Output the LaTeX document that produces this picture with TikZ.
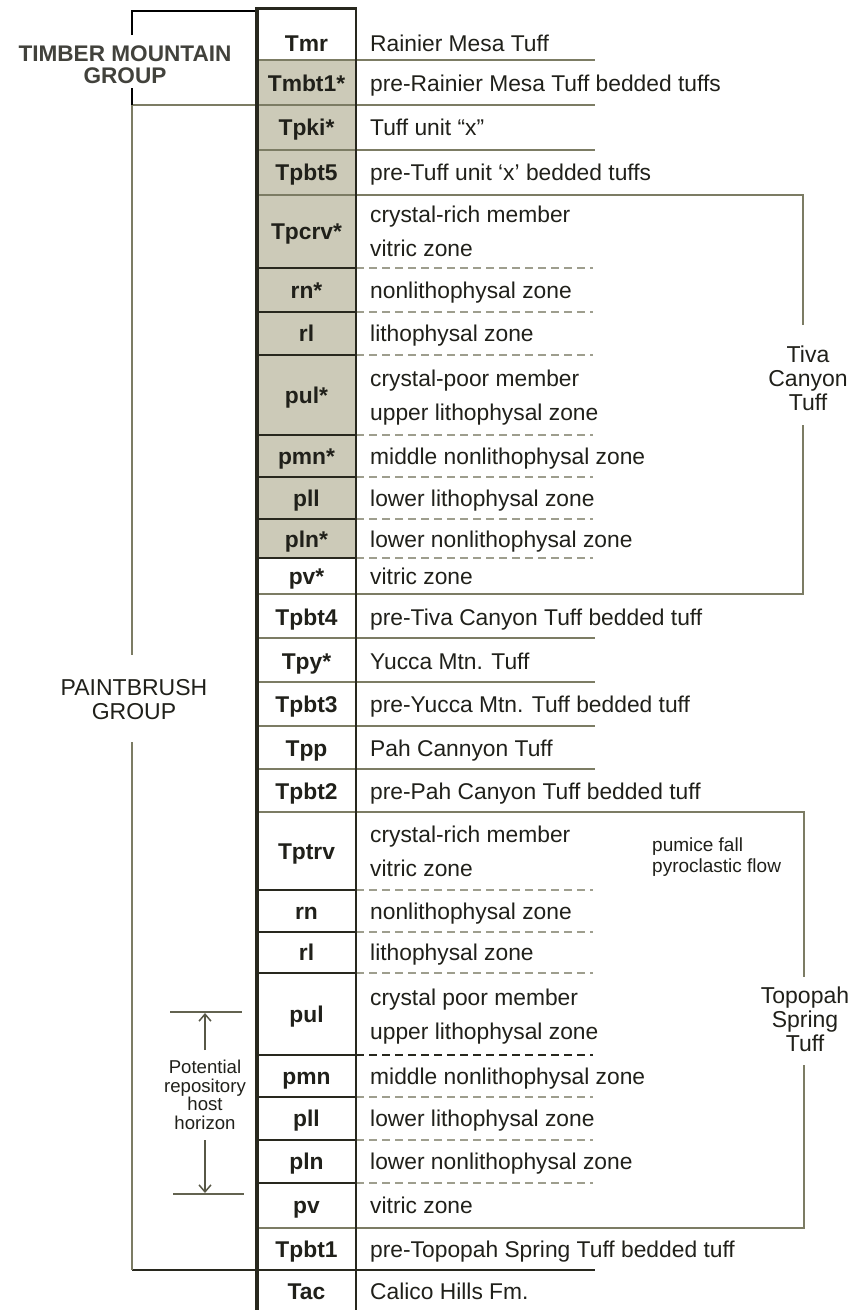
\documentclass[tikz,border=0pt]{standalone}
\usepackage{fontspec}
\setmainfont{Liberation Sans}
\usetikzlibrary{arrows.meta}

\definecolor{cellfill}{RGB}{204,202,184}
\definecolor{rulecol}{RGB}{124,124,100}
\definecolor{dashcol}{RGB}{158,158,142}
\definecolor{darkrule}{RGB}{40,40,30}
\definecolor{ink}{RGB}{32,32,26}
\definecolor{groupink}{RGB}{66,66,60}

\tikzset{
  unitlbl/.style={font=\fontsize{22.8}{26}\selectfont\bfseries, text=ink, anchor=base, inner sep=0pt},
  desclbl/.style={font=\fontsize{22.8}{26}\selectfont, text=ink, anchor=base west, inner sep=0pt},
  mainsep/.style={rulecol, line width=2pt},
  subsep/.style={darkrule, line width=1.6pt},
  zonesep/.style={dashcol, line width=1.8pt, dash pattern=on 8pt off 5pt},
  hostsep/.style={darkrule, line width=2pt, dash pattern=on 8pt off 5pt},
  bracket/.style={rulecol, line width=2pt},
  tufflbl/.style={font=\fontsize{23}{24}\selectfont, text=ink, align=center, inner sep=0pt},
  grouplbl/.style={font=\fontsize{23}{24}\selectfont, text=ink, align=center, inner sep=0pt},
  hostarrow/.style={rulecol!70!black, line width=1.5pt, -{Straight Barb[length=7pt,width=12pt]}},
}

% one unit per row: symbol in the column, description to its right
\newcommand\unitrow[4]{%
  \node[unitlbl] (#1) at (306.5,#2+8) {#3};
  \node[desclbl] (#1d) at (370,#2+8) {#4};}
% unit whose description takes two lines
\newcommand\dualrow[5]{%
  \node[unitlbl] (#1) at (306.5,#2+8) {#3};
  \node[desclbl] (#1a) at (370,#2-9) {#4};
  \node[desclbl] (#1b) at (370,#2+25) {#5};}

\begin{document}
\begin{tikzpicture}[x=1pt,y=-1pt]
\useasboundingbox (0,0) rectangle (853,1310);

% shaded units of the column
\fill[cellfill] (257,60) rectangle (356,558);

% boundaries between formations
\foreach \y in {60,150,638,682,726,769}
  \draw[mainsep] (257,\y) -- (595,\y);
\draw[mainsep] (132,105) -- (595,105);
\draw[darkrule, line width=2.4pt] (132,1270) -- (595,1270);

% boundaries between zones inside a tuff
\foreach \y in {268,312,355,435,477,519,558,890,932,973,1097,1140,1183} {
  \draw[subsep] (257,\y) -- (356,\y);
  \draw[zonesep] (356,\y) -- (593,\y);
}
\draw[darkrule, line width=2.6pt] (257,1055) -- (356,1055);
\draw[hostsep] (356,1055) -- (593,1055);

% Tiva Canyon Tuff bracket
\draw[mainsep] (257,195) -- (803,195) -- (803,325);
\draw[mainsep] (803,425) -- (803,594) -- (257,594);
\node[tufflbl] (tiva) at (808,378) {Tiva\\Canyon\\Tuff};

% Topopah Spring Tuff bracket
\draw[mainsep] (257,812) -- (804,812) -- (804,977);
\draw[mainsep] (804,1065) -- (804,1228) -- (257,1228);
\node[tufflbl] (topopah) at (805,1019) {Topopah\\Spring\\Tuff};

% Timber Mountain Group bracket
\draw[black, line width=1.6pt] (132,35) -- (132,11) -- (257,11);
\draw[black, line width=1.6pt] (132,88) -- (132,105);
\node[font=\fontsize{22.6}{22}\selectfont\bfseries, text=groupink, align=center, inner sep=0pt]
  (timber) at (125,65) {TIMBER MOUNTAIN\\GROUP};

% Paintbrush Group bracket
\draw[bracket] (132,105) -- (132,655);
\draw[bracket] (132,742) -- (132,1270);
\node[grouplbl] (paint) at (134,700) {PAINTBRUSH\\GROUP};

% potential repository host horizon
\coordinate (hostTopL) at (170,1012);
\coordinate (hostTopR) at (242,1012);
\coordinate (hostBotL) at (173,1194);
\coordinate (hostBotR) at (244,1194);
\coordinate (hostTip1) at (205,1013);
\coordinate (hostTip2) at (205,1193);
\coordinate (hostTail1) at (205,1050);
\coordinate (hostTail2) at (205,1140);
\draw[rulecol!80!black, line width=1.5pt] (hostTopL) -- (hostTopR);
\draw[rulecol!80!black, line width=1.5pt] (hostBotL) -- (hostBotR);
\draw[hostarrow] (hostTail1) -- (hostTip1);
\draw[hostarrow] (hostTail2) -- (hostTip2);
\node[font=\fontsize{18.6}{18.6}\selectfont, text=ink, align=center, inner sep=0pt]
  (host) at (205,1095) {Potential\\repository\\host\\horizon};

% pumice note
\node[font=\fontsize{19}{21}\selectfont, text=ink, align=left, anchor=west, inner sep=0pt]
  (pumice) at (652,857) {pumice fall\\pyroclastic flow};

% column frame
\draw[darkrule, line width=3.2pt] (257,1310) -- (257,8);
\draw[darkrule, line width=3pt] (255.4,8) -- (357.3,8);
\draw[darkrule, line width=2.6pt] (356,8) -- (356,1310);

% units
\unitrow{tmr}{43}{Tmr}{Rainier Mesa Tuff}
\unitrow{tmbt1}{83}{Tmbt1*}{pre-Rainier Mesa Tuff bedded tuffs}
\unitrow{tpki}{127}{Tpki*}{Tuff unit “x”}
\unitrow{tpbt5}{172}{Tpbt5}{pre-Tuff unit ‘x’ bedded tuffs}
\dualrow{tpcrv}{231}{Tpcrv*}{crystal-rich member}{vitric zone}
\unitrow{crn}{290}{rn*}{nonlithophysal zone}
\unitrow{crl}{333}{rl}{lithophysal zone}
\dualrow{cpul}{395}{pul*}{crystal-poor member}{upper lithophysal zone}
\unitrow{cpmn}{456}{pmn*}{middle nonlithophysal zone}
\unitrow{cpll}{498}{pll}{lower lithophysal zone}
\unitrow{cpln}{539}{pln*}{lower nonlithophysal zone}
\unitrow{cpv}{576}{pv*}{vitric zone}
\unitrow{tpbt4}{617}{Tpbt4}{pre-Tiva Canyon Tuff bedded tuff}
\unitrow{tpy}{661}{Tpy*}{Yucca Mtn. Tuff}
\unitrow{tpbt3}{704}{Tpbt3}{pre-Yucca Mtn. Tuff bedded tuff}
\unitrow{tpp}{748}{Tpp}{Pah Cannyon Tuff}
\unitrow{tpbt2}{791}{Tpbt2}{pre-Pah Canyon Tuff bedded tuff}
\dualrow{tptrv}{851}{Tptrv}{crystal-rich member}{vitric zone}
\unitrow{trn}{911}{rn}{nonlithophysal zone}
\unitrow{trl}{952}{rl}{lithophysal zone}
\dualrow{tpul}{1014}{pul}{crystal poor member}{upper lithophysal zone}
\unitrow{tpmn}{1076}{pmn}{middle nonlithophysal zone}
\unitrow{tpll}{1118}{pll}{lower lithophysal zone}
\unitrow{tpln}{1161}{pln}{lower nonlithophysal zone}
\unitrow{tpv}{1205}{pv}{vitric zone}
\unitrow{tpbt1}{1249}{Tpbt1}{pre-Topopah Spring Tuff bedded tuff}
\unitrow{tac}{1291}{Tac}{Calico Hills Fm.}
\end{tikzpicture}
\end{document}
